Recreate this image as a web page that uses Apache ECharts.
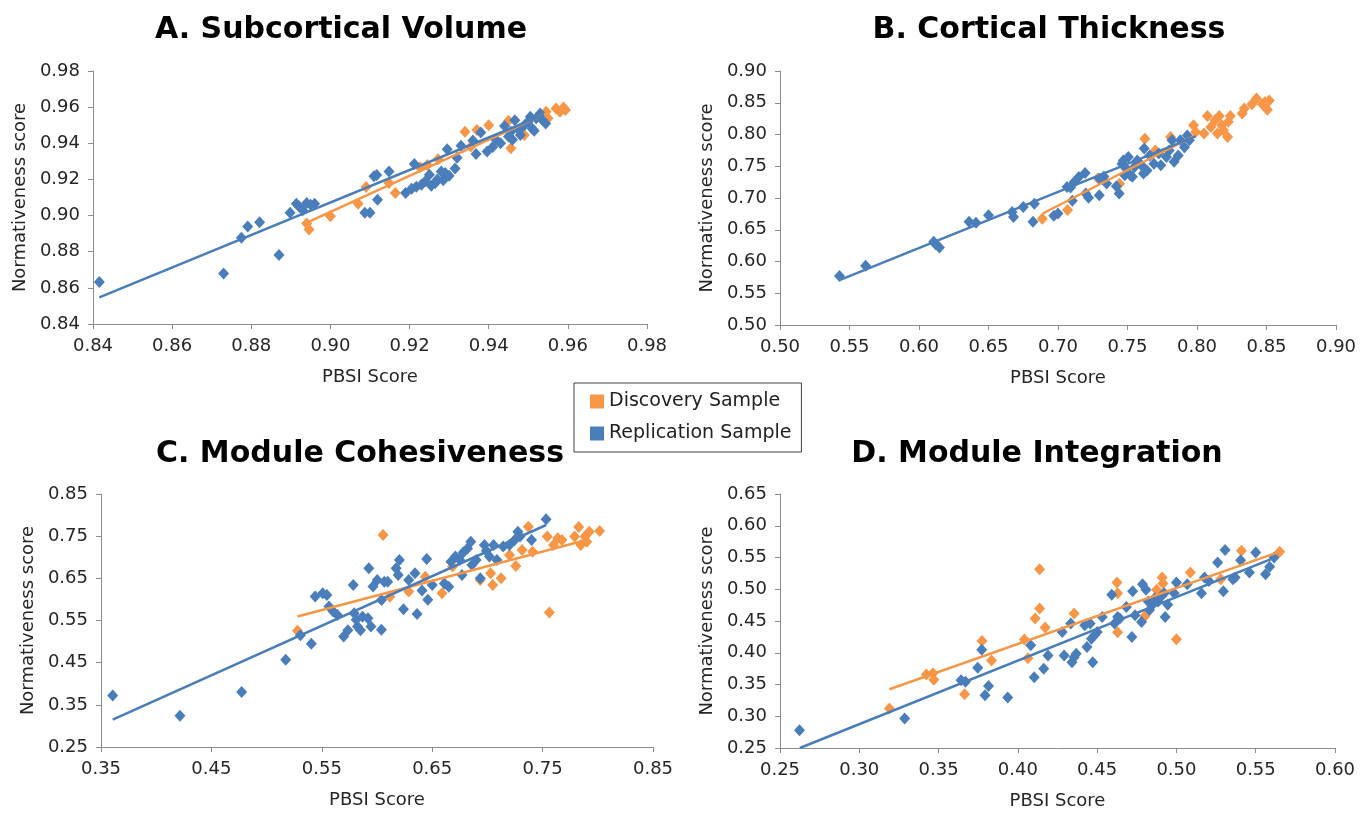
<!DOCTYPE html>
<html>
<head>
<meta charset="utf-8">
<script src="https://cdn.jsdelivr.net/npm/echarts@6.0.0/dist/echarts.min.js"></script>
<style>
html, body { margin: 0; padding: 0; background: #fff; }
#chart { width: 1370px; height: 814px; }
</style>
</head>
<body>
<div id="chart"></div>
<script>
// panel titles and legend names
var panelTitles = ['A. Subcortical Volume', 'B. Cortical Thickness', 'C. Module Cohesiveness', 'D. Module Integration'];
var seriesNames = ['Discovery Sample', 'Replication Sample'];

// tick values per panel (x and y)
var xTicks = [
  [0.84, 0.86, 0.88, 0.90, 0.92, 0.94, 0.96, 0.98],
  [0.50, 0.55, 0.60, 0.65, 0.70, 0.75, 0.80, 0.85, 0.90],
  [0.35, 0.45, 0.55, 0.65, 0.75, 0.85],
  [0.25, 0.30, 0.35, 0.40, 0.45, 0.50, 0.55, 0.60]
];
var yTicks = [
  [0.84, 0.86, 0.88, 0.90, 0.92, 0.94, 0.96, 0.98],
  [0.50, 0.55, 0.60, 0.65, 0.70, 0.75, 0.80, 0.85, 0.90],
  [0.25, 0.35, 0.45, 0.55, 0.65, 0.75, 0.85],
  [0.25, 0.30, 0.35, 0.40, 0.45, 0.50, 0.55, 0.60, 0.65]
];

// A. Subcortical Volume  [PBSI, normativeness]
var discA = [[0.8946,0.8923],[0.894,0.8956],[0.900,0.8996],[0.907,0.9066],[0.909,0.9158],[0.9148,0.918],[0.9164,0.9125],
  [0.9226,0.9268],[0.9245,0.928],[0.9272,0.9312],[0.934,0.9464],[0.9355,0.9382],[0.937,0.9473],[0.940,0.950],[0.945,0.9525],
  [0.9456,0.9372],[0.949,0.9446],[0.9545,0.9574],[0.955,0.9538],[0.957,0.9593],[0.958,0.9574],[0.9589,0.9598],[0.9594,0.9584]];
var replA = [[0.8416,0.8633],[0.873,0.8679],[0.8775,0.8877],[0.8791,0.894],[0.8821,0.8963],[0.887,0.8782],[0.8898,0.9015],
  [0.8914,0.9066],[0.8921,0.905],[0.893,0.903],[0.894,0.907],[0.895,0.906],[0.896,0.9066],[0.9087,0.9015],[0.910,0.9015],
  [0.911,0.9217],[0.9117,0.9224],[0.9119,0.9088],[0.9148,0.9244],[0.919,0.9125],[0.9212,0.9286],[0.9217,0.916],[0.923,0.917],
  [0.924,0.919],[0.925,0.9226],[0.9265,0.918],[0.927,0.920],[0.928,0.9244],[0.929,0.9235],[0.9295,0.9367],[0.930,0.922],
  [0.9315,0.926],[0.932,0.932],[0.933,0.9387],[0.9368,0.9341],[0.936,0.9415],[0.938,0.946],[0.9396,0.9354],[0.941,0.938],
  [0.9418,0.942],[0.943,0.940],[0.944,0.9495],[0.945,0.9437],[0.946,0.942],[0.9466,0.9528],[0.9477,0.9473],[0.949,0.950],
  [0.950,0.952],[0.9505,0.9547],[0.951,0.948],[0.9515,0.947],[0.952,0.9538],[0.953,0.9565],[0.9535,0.953],[0.9544,0.951],
  [0.948,0.9446],[0.9456,0.9464],[0.9205,0.9148],[0.9255,0.9165],[0.9285,0.9195]];
var trendDiscA = [[0.8935,0.8955],[0.955,0.957]];
var trendReplA = [[0.8416,0.8547],[0.954,0.9558]];

// B. Cortical Thickness
var discB = [[0.6887,0.6675],[0.7069,0.681],[0.7287,0.731],[0.7443,0.7225],[0.7625,0.7935],[0.770,0.775],[0.781,0.796],
  [0.7975,0.8145],[0.799,0.804],[0.805,0.8015],[0.8075,0.829],[0.81,0.812],[0.813,0.8225],[0.8147,0.8015],[0.816,0.829],
  [0.8178,0.8145],[0.819,0.8065],[0.822,0.796],[0.8225,0.82],[0.824,0.829],[0.8325,0.833],[0.834,0.841],[0.8395,0.8475],
  [0.8428,0.8565],[0.847,0.8475],[0.849,0.851],[0.8506,0.839],[0.852,0.8535]];
var replB = [[0.5428,0.577],[0.5616,0.5933],[0.6106,0.631],[0.612,0.627],[0.6147,0.622],[0.636,0.6625],[0.641,0.661],
  [0.65,0.673],[0.667,0.678],[0.668,0.670],[0.675,0.686],[0.683,0.691],[0.682,0.6625],[0.697,0.672],[0.70,0.6755],
  [0.7065,0.7175],[0.709,0.7165],[0.7103,0.6955],[0.7115,0.725],[0.715,0.733],[0.7195,0.7395],[0.72,0.707],[0.722,0.7005],
  [0.7297,0.7045],[0.73,0.7305],[0.733,0.734],[0.735,0.723],[0.742,0.7185],[0.744,0.707],[0.746,0.754],[0.747,0.759],
  [0.749,0.7465],[0.7506,0.7645],[0.752,0.736],[0.755,0.749],[0.757,0.759],[0.76,0.7515],[0.7615,0.7385],[0.762,0.778],
  [0.764,0.7435],[0.766,0.767],[0.769,0.754],[0.7725,0.770],[0.774,0.7515],[0.778,0.7645],[0.78,0.775],[0.782,0.791],
  [0.7835,0.757],[0.7865,0.767],[0.788,0.791],[0.791,0.78],[0.793,0.7985],[0.7945,0.791],[0.748,0.736],[0.7535,0.7335]];
var trendDiscB = [[0.689,0.6756],[0.80,0.80]];
var trendReplB = [[0.5428,0.5707],[0.799,0.797]];

// C. Module Cohesiveness
var discC = [[0.528,0.5254],[0.6055,0.7527],[0.6116,0.6066],[0.6287,0.6186],[0.6437,0.654],[0.6589,0.6146],[0.6684,0.6778],
  [0.6935,0.6462],[0.7029,0.662],[0.7048,0.6344],[0.7124,0.65],[0.72,0.7054],[0.7257,0.6794],[0.7314,0.717],[0.7371,0.7725],
  [0.7409,0.713],[0.7561,0.5688],[0.7542,0.749],[0.7599,0.729],[0.7637,0.745],[0.7675,0.741],[0.7827,0.772],[0.7846,0.729],
  [0.7884,0.749],[0.7922,0.7607],[0.8017,0.7622],[0.779,0.749],[0.79,0.737]];
var replC = [[0.3606,0.3723],[0.4215,0.3242],[0.4774,0.3802],[0.5173,0.4568],[0.5306,0.5152],[0.5405,0.4947],[0.544,0.6068],
  [0.5508,0.6146],[0.5546,0.6107],[0.5565,0.583],[0.5603,0.5712],[0.5641,0.5633],[0.5698,0.512],[0.5736,0.527],[0.5785,0.6344],
  [0.5793,0.567],[0.5812,0.5515],[0.5823,0.5357],[0.585,0.527],[0.5869,0.559],[0.5926,0.674],[0.5918,0.5555],[0.5945,0.5357],
  [0.5964,0.6304],[0.6002,0.646],[0.6041,0.5988],[0.604,0.528],[0.6066,0.642],[0.6097,0.642],[0.6173,0.674],[0.6203,0.6936],
  [0.6192,0.658],[0.624,0.5767],[0.6287,0.646],[0.6344,0.662],[0.6363,0.5657],[0.6408,0.621],[0.645,0.696],[0.646,0.599],
  [0.65,0.6344],[0.661,0.638],[0.665,0.63],[0.667,0.6896],[0.671,0.7015],[0.675,0.6936],[0.677,0.658],[0.678,0.711],
  [0.682,0.721],[0.685,0.737],[0.686,0.6817],[0.6898,0.6936],[0.6935,0.65],[0.6973,0.729],[0.699,0.7157],[0.7018,0.7015],
  [0.7056,0.729],[0.7086,0.6936],[0.7143,0.7252],[0.72,0.729],[0.7247,0.741],[0.7276,0.7607],[0.7295,0.749],[0.74,0.741],
  [0.7532,0.79]];
var trendDiscC = [[0.528,0.5594],[0.7922,0.7425]];
var trendReplC = [[0.3606,0.3147],[0.7532,0.7765]];

// D. Module Integration
var discD = [[0.319,0.3121],[0.3423,0.3658],[0.3464,0.3679],[0.347,0.3574],[0.3664,0.3346],[0.3774,0.4184],[0.3834,0.3878],
  [0.4041,0.421],[0.4063,0.3915],[0.4109,0.4538],[0.4137,0.5316],[0.4137,0.4696],[0.4172,0.4396],[0.4355,0.4617],
  [0.4625,0.5105],[0.4629,0.4938],[0.4629,0.4322],[0.4801,0.4575],[0.4875,0.4993],[0.491,0.5184],[0.4915,0.509],
  [0.5,0.4212],[0.5088,0.5263],[0.5279,0.5158],[0.541,0.5605],[0.5651,0.559]];
var replD = [[0.2623,0.2779],[0.3286,0.2963],[0.3642,0.3568],[0.367,0.3542],[0.3747,0.3765],[0.3772,0.4049],[0.3793,0.333],
  [0.3815,0.3478],[0.3936,0.3294],[0.4081,0.4117],[0.4103,0.3616],[0.4163,0.3748],[0.419,0.3957],[0.428,0.4327],
  [0.4292,0.3957],[0.4334,0.4459],[0.4341,0.3852],[0.4355,0.3931],[0.4368,0.3983],[0.4422,0.4432],[0.4436,0.409],
  [0.4456,0.4459],[0.4464,0.4222],[0.4472,0.3852],[0.4483,0.4275],[0.45,0.4327],[0.4532,0.4564],[0.4592,0.4915],
  [0.461,0.4459],[0.4629,0.4564],[0.4643,0.4538],[0.4684,0.4722],[0.4719,0.4249],[0.4724,0.4967],[0.4739,0.459],
  [0.478,0.4485],[0.4786,0.5079],[0.4808,0.4993],[0.4822,0.4807],[0.483,0.4675],[0.4849,0.4754],[0.4862,0.486],
  [0.4884,0.4807],[0.4903,0.4886],[0.4923,0.4938],[0.4929,0.4564],[0.4945,0.4754],[0.4986,0.4938],[0.5,0.5105],
  [0.5068,0.5079],[0.5158,0.4938],[0.5177,0.5184],[0.5205,0.5131],[0.526,0.5421],[0.5296,0.4967],[0.5307,0.5618],
  [0.5356,0.5158],[0.537,0.5184],[0.5405,0.5458],[0.546,0.5263],[0.55,0.5579],[0.5562,0.5237],[0.5588,0.5353],
  [0.5616,0.55]];
var trendDiscD = [[0.319,0.3425],[0.5656,0.5597]];
var trendReplD = [[0.2625,0.25],[0.5628,0.5505]];

var discData = [discA, discB, discC, discD];
var replData = [replA, replB, replC, replD];
var discTrend = [trendDiscA, trendDiscB, trendDiscC, trendDiscD];
var replTrend = [trendReplA, trendReplB, trendReplC, trendReplD];

var ORANGE = '#F79646';
var BLUE = '#4A7EBB';
var FONT = 'DejaVu Sans';

var grids = [
  { left: 93, top: 71, width: 554, height: 253 },
  { left: 780, top: 71, width: 556, height: 254 },
  { left: 101, top: 494, width: 552, height: 253 },
  { left: 780, top: 494, width: 555, height: 254 }
];
var titlePos = [[336, 10], [1044, 10], [355, 434], [1032, 434]];

function fmt(v) { return v.toFixed(2); }

function axis(i, ticks, isX) {
  return {
    type: 'value',
    gridIndex: i,
    min: ticks[0],
    max: ticks[ticks.length - 1],
    interval: +(ticks[1] - ticks[0]).toFixed(4),
    name: isX ? 'PBSI Score' : 'Normativeness score',
    nameLocation: 'middle',
    nameGap: isX ? 44 : 64,
    nameTextStyle: { fontFamily: FONT, fontSize: 18, color: '#262626' },
    axisLine: { show: true, onZero: false, lineStyle: { color: '#8c8c8c', width: 1 } },
    axisTick: { show: true, length: 5, lineStyle: { color: '#8c8c8c' } },
    splitLine: { show: false },
    axisLabel: { fontFamily: FONT, fontSize: 18, color: '#262626', margin: 13, formatter: fmt,
                 showMinLabel: true, showMaxLabel: true }
  };
}

var option = {
  backgroundColor: '#fff',
  animation: false,
  title: panelTitles.map(function (t, i) {
    return { text: t, left: titlePos[i][0], top: titlePos[i][1], textAlign: 'center',
             textStyle: { fontFamily: FONT, fontSize: 30, fontWeight: 'bold', color: '#000' } };
  }),
  legend: {
    data: seriesNames,
    orient: 'vertical',
    left: 574, top: 383,
    padding: [9, 10, 9, 16],
    itemWidth: 14, itemHeight: 14, itemGap: 13,
    icon: 'rect',
    borderColor: '#404040', borderWidth: 1,
    textStyle: { fontFamily: FONT, fontSize: 19, color: '#222' }
  },
  grid: grids,
  xAxis: xTicks.map(function (t, i) { return axis(i, t, true); }),
  yAxis: yTicks.map(function (t, i) { return axis(i, t, false); }),
  series: []
};

for (var i = 0; i < 4; i++) {
  option.series.push({
    name: seriesNames[0], type: 'scatter', xAxisIndex: i, yAxisIndex: i,
    symbol: 'diamond', symbolSize: [11, 12], z: 2, data: discData[i],
    itemStyle: { color: ORANGE, opacity: 1 }
  });
  option.series.push({
    name: seriesNames[1], type: 'scatter', xAxisIndex: i, yAxisIndex: i,
    symbol: 'diamond', symbolSize: [11, 12], z: 3, data: replData[i],
    itemStyle: { color: BLUE, opacity: 1 }
  });
  option.series.push({
    name: 'Discovery trend', type: 'line', xAxisIndex: i, yAxisIndex: i, z: 4,
    showSymbol: false, silent: true, data: discTrend[i],
    lineStyle: { color: ORANGE, width: 2.5 }, itemStyle: { color: ORANGE }
  });
  option.series.push({
    name: 'Replication trend', type: 'line', xAxisIndex: i, yAxisIndex: i, z: 4,
    showSymbol: false, silent: true, data: replTrend[i],
    lineStyle: { color: BLUE, width: 2.5 }, itemStyle: { color: BLUE }
  });
}

var chart = echarts.init(document.getElementById('chart'));
chart.setOption(option);
</script>
</body>
</html>
